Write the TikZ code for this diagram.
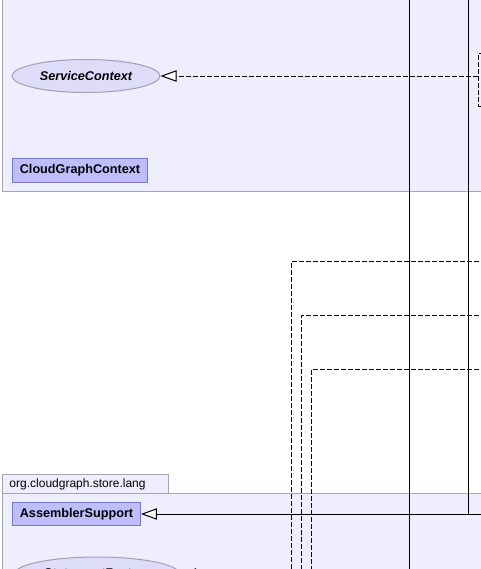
\documentclass[tikz,border=0pt]{standalone}
\usepackage{fontspec}
\setmainfont{Liberation Sans}
\usetikzlibrary{arrows.meta,shapes.geometric}

\definecolor{pkgfill}{RGB}{238,238,255}
\definecolor{pkgline}{RGB}{165,165,180}
\definecolor{clsfill}{RGB}{190,190,255}
\definecolor{clsline}{RGB}{120,120,200}
\definecolor{ifacefill}{RGB}{221,221,250}
\definecolor{ifaceline}{RGB}{160,160,176}

\begin{document}
\begin{tikzpicture} [
    x=0.75pt, y=-0.75pt,
    package/.style  = { draw=pkgline, fill=pkgfill, line width=0.75pt },
    pkgtab/.style   = { rectangle, draw=pkgline, fill=pkgfill, line width=0.75pt,
                        anchor=north west, minimum width=124.5pt, minimum height=14.25pt,
                        text width=114pt, align=left, inner xsep=5.25pt, inner ysep=0pt,
                        font=\fontsize{9}{10}\selectfont },
    cls/.style      = { rectangle, draw=clsline, fill=clsfill, line width=0.75pt,
                        anchor=west, minimum height=17.75pt, inner xsep=5.5pt,
                        font=\bfseries\fontsize{9.5}{11}\selectfont },
    iface/.style    = { ellipse, draw=ifaceline, fill=ifacefill, line width=0.75pt,
                        inner sep=0pt, minimum width=111pt, minimum height=24.75pt,
                        font=\bfseries\itshape\fontsize{9.5}{11}\selectfont },
    hidden/.style   = { rectangle, draw, line width=0.75pt, dash pattern=on 3.75pt off 1.5pt,
                        anchor=north west, minimum width=40pt, minimum height=39.75pt,
                        inner sep=0pt },
    line/.style     = { draw, line width=0.75pt },
    dline/.style    = { line, dash pattern=on 3.75pt off 1.5pt },
    inh/.style      = { line, -{Triangle[fill=white, length=12pt, width=8.5pt]} },
    impl/.style     = { inh, dash pattern=on 3.75pt off 1.5pt },
  ]
  \useasboundingbox (0,0) rectangle (481,569);
  \clip (0,0) rectangle (481,569);

  % packages
  \path [package] (2,-20) rectangle (520,191);
  \path [package] (2,493) rectangle (520,620);
  \node [pkgtab] (langtab) at (2,474) {org.cloudgraph.store.lang};

  % classes and interfaces
  \node [iface] (servicecontext) at (86,76) {ServiceContext};
  \node [cls] (cloudgraphcontext) at (12,170.5) {CloudGraphContext};
  \node [hidden] (contextimpl) at (478,53) {};
  \node [cls] (assemblersupport) at (12,514) {AssemblerSupport};
  \node [iface, minimum width=123.75pt, minimum height=25.5pt]
        (statementfactory) at (97,574) {StatementFactory};

  % free ends outside the crop
  \coordinate (passtop)  at (409,-10);
  \coordinate (passbot)  at (409,600);
  \coordinate (asmup)    at (468,-10);
  \coordinate (asmright) at (500,514);
  \coordinate (deponein) at (500,261.3);
  \coordinate (deponeout) at (291.7,600);
  \coordinate (deptwoin) at (500,315.3);
  \coordinate (deptwoout) at (301.7,600);
  \coordinate (depthrin) at (500,369.3);
  \coordinate (depthrout) at (311.7,600);
  \coordinate (factin)   at (300,574);

  % connect the nodes
  \path [impl] (servicecontext.east -| contextimpl.west) -- (servicecontext.east);
  \path [line] (passtop) -- (passbot);
  \path [inh] (asmright) -- (assemblersupport.east);
  \path [line] (asmup) -- (asmup |- assemblersupport.east);
  \path [dline] (deponein) -| (deponeout);
  \path [dline] (deptwoin) -| (deptwoout);
  \path [dline] (depthrin) -| (depthrout);
  \path [impl] (factin) -- (statementfactory.east);
\end{tikzpicture}
\end{document}
